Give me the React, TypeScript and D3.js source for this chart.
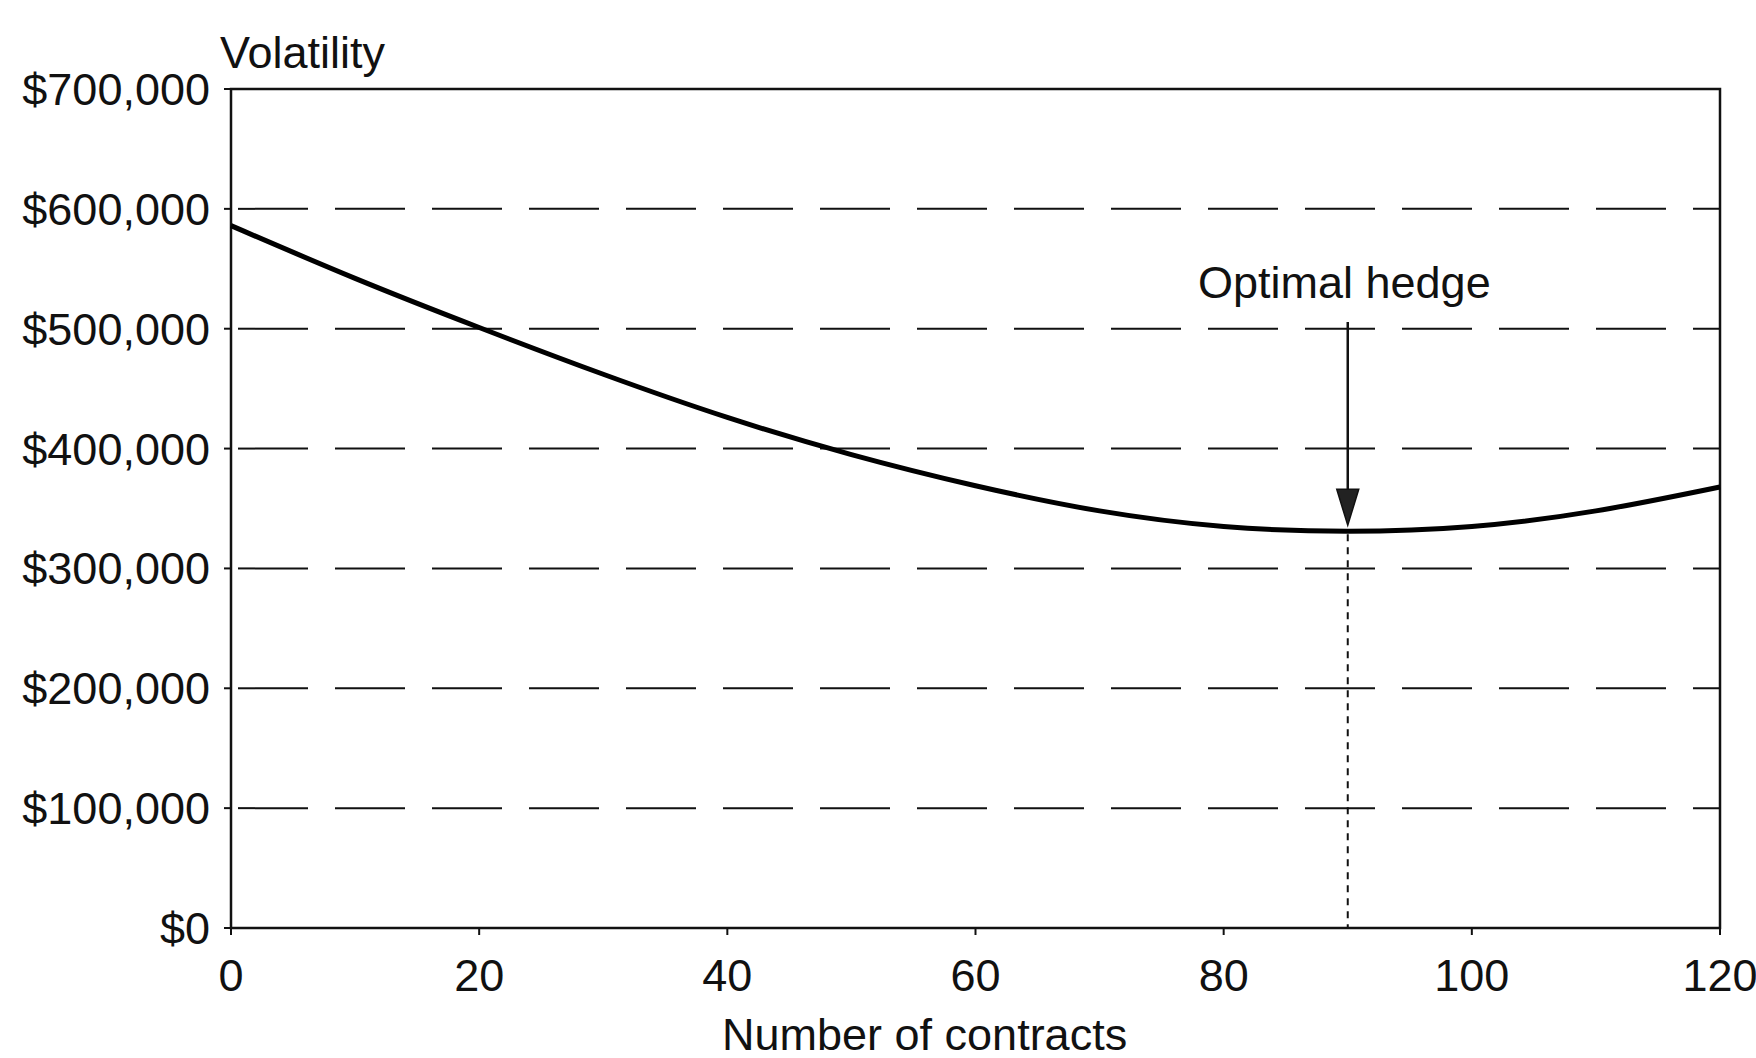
import React from "react";
import * as d3 from "d3";

const contracts = [0, 10, 20, 30, 40, 50, 60, 70, 80, 90, 100, 110, 120];
const volatility = [586000, 542000, 501000, 462000, 426000, 395000, 369000, 348000, 335000, 331000, 335000, 348000, 368000];
const yTicks = [0, 100000, 200000, 300000, 400000, 500000, 600000, 700000];
const xTicks = [0, 20, 40, 60, 80, 100, 120];
const optimalHedge = 90;
const optimalValue = 331000;

const W = 1756;
const H = 1058;
const left = 231;
const right = 1720;
const top = 89;
const bottom = 928;
const FONT = "'Liberation Sans', Arial, Helvetica, sans-serif";
const FS = 45;

export default function App() {
  const x = d3.scaleLinear().domain([0, 120]).range([left, right]);
  const y = d3.scaleLinear().domain([0, 700000]).range([bottom, top]);
  const line = d3
    .line<number>()
    .x((_, i) => x(contracts[i]))
    .y((d) => y(d))
    .curve(d3.curveNatural);
  const fmt = (v: number) => "$" + d3.format(",")(v);
  const ax = x(optimalHedge);
  const curveY = y(optimalValue);
  const tipY = curveY - 6;
  return (
    <svg
      width={W}
      height={H}
      style={{ position: "absolute", left: 0, top: 0, background: "#fff" }}
      fontFamily={FONT}
    >
      <rect x={0} y={0} width={W} height={H} fill="#fff" />
      {yTicks.filter((t) => t > 0 && t < 700000).map((t) => (
        <line
          key={"g" + t}
          x1={left}
          x2={right}
          y1={y(t)}
          y2={y(t)}
          stroke="#111"
          strokeWidth={2}
          strokeDasharray="70 27"
          strokeDashoffset={-7}
        />
      ))}
      {yTicks.map((t) => (
        <g key={"y" + t}>
          <line x1={left - 7} x2={left} y1={y(t)} y2={y(t)} stroke="#111" strokeWidth={2} />
          <text x={210} y={y(t) + 16} textAnchor="end" fontSize={FS} fill="#111">
            {fmt(t)}
          </text>
        </g>
      ))}
      {xTicks.map((t) => (
        <g key={"x" + t}>
          <line x1={x(t)} x2={x(t)} y1={bottom} y2={bottom + 7} stroke="#111" strokeWidth={2} />
          <text x={x(t)} y={991} textAnchor="middle" fontSize={FS} fill="#111">
            {t}
          </text>
        </g>
      ))}
      <rect
        x={left}
        y={top}
        width={right - left}
        height={bottom - top}
        fill="none"
        stroke="#111"
        strokeWidth={2.5}
      />
      <path d={line(volatility) || ""} fill="none" stroke="#000" strokeWidth={5} />
      <line x1={ax} x2={ax} y1={curveY + 3} y2={bottom} stroke="#111" strokeWidth={2} strokeDasharray="7 6" />
      <line x1={ax} x2={ax} y1={322} y2={tipY - 20} stroke="#111" strokeWidth={2.5} />
      <path
        d={`M${ax - 11},${tipY - 36} L${ax + 11},${tipY - 36} L${ax},${tipY} Z`}
        fill="#222"
        stroke="#111"
        strokeWidth={1.5}
      />
      <text x={1198} y={298} fontSize={FS} fill="#111">
        Optimal hedge
      </text>
      <text x={220} y={68} fontSize={FS} fill="#111">
        Volatility
      </text>
      <text x={722} y={1050} fontSize={FS} fill="#111">
        Number of contracts
      </text>
    </svg>
  );
}
